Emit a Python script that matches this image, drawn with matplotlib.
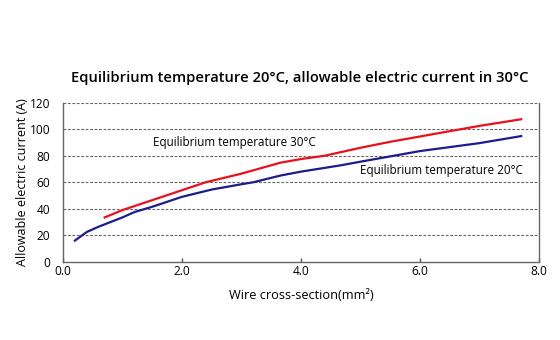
import matplotlib

matplotlib.use("Agg")
import matplotlib.pyplot as plt

plt.rcParams["font.family"] = ["Open Sans", "DejaVu Sans"]

# wire cross-section (mm2) vs allowable current (A)
x_20 = [0.2, 0.4, 0.6, 0.8, 1.0, 1.2, 1.5, 2.0, 2.5, 3.0, 3.2, 3.65, 4.0, 4.66, 5.0, 5.5, 6.0, 6.5, 7.0, 7.7]
y_20 = [16, 22.5, 26.5, 30, 33.5, 37.5, 41.5, 49, 54.5, 58.5, 60, 65, 68, 72.7, 75.5, 79.5, 83.5, 86.5, 89.5, 94.8]

x_30 = [0.7, 1.0, 1.5, 2.0, 2.4, 3.0, 3.65, 4.0, 4.4, 5.0, 5.5, 6.0, 6.5, 7.0, 7.7]
y_30 = [33.5, 39, 46.5, 54, 60, 66.5, 74.7, 77.5, 80, 86, 90.5, 94.5, 98.5, 102.5, 107.5]

x_ticks = [0, 2, 4, 6, 8]
x_ticklabels = ["0.0", "2.0", "4.0", "6.0", "8.0"]
y_ticks = [0, 20, 40, 60, 80, 100, 120]

fig = plt.figure(figsize=(5.6, 3.4), dpi=100)
ax = fig.add_axes([0.1125, 0.230, 0.850, 0.468])

ax.plot(x_30, y_30, color="#e8101c", lw=1.6)
ax.plot(x_20, y_20, color="#1c1c8a", lw=1.6)

ax.set_xlim(0, 8)
ax.set_ylim(0, 120)
ax.set_xticks(x_ticks)
ax.set_xticklabels(x_ticklabels)
ax.set_yticks(y_ticks)
ax.tick_params(axis="x", direction="in", length=3, width=1, color="#555555", labelsize=8.6, pad=2)
ax.tick_params(axis="y", length=0, labelsize=8.6, pad=9)

for y in y_ticks[1:]:
    ax.axhline(y, color="#666666", lw=0.8, ls=(0, (2.5, 1.5)), zorder=0)

ax.spines["top"].set_visible(False)
for side in ("left", "bottom", "right"):
    ax.spines[side].set_color("#666666")
    ax.spines[side].set_linewidth(1.0)

ax.text(1.51, 90.3, "Equilibrium temperature 30°C", fontsize=8.4, va="center", ha="left")
ax.text(4.99, 69.2, "Equilibrium temperature 20°C", fontsize=8.4, va="center", ha="left")

ax.set_xlabel("Wire cross-section(mm²)", fontsize=9.2, labelpad=8)
ax.yaxis.set_label_coords(-0.072, 0.41)
ax.set_ylabel("Allowable electric current (A)", fontsize=9.0)

fig.text(0.536, 0.770, "Equilibrium temperature 20°C, allowable electric current in 30°C",
         fontsize=10.6, fontweight="semibold", ha="center", va="center")

fig.savefig("out.png", dpi=100)
